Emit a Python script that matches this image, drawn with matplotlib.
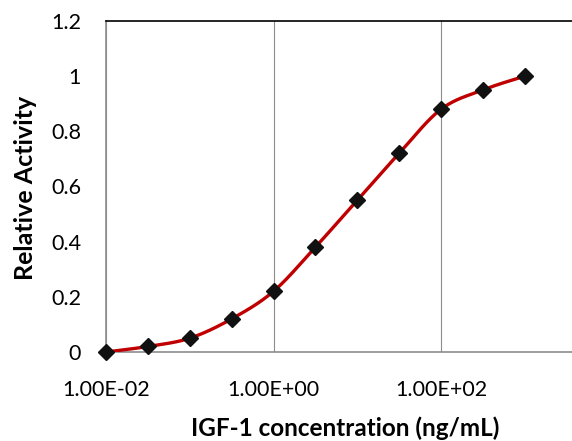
import numpy as np
import matplotlib
matplotlib.use("Agg")
import matplotlib.pyplot as plt
from matplotlib.ticker import FixedLocator, NullLocator

plt.rcParams['font.family'] = ['Lato', 'DejaVu Sans']

# data
conc = [0.01, 0.0316, 0.1, 0.316, 1, 3.16, 10, 31.6, 100, 316, 1000]
activity = [0.0, 0.02, 0.05, 0.12, 0.22, 0.38, 0.55, 0.72, 0.88, 0.95, 1.0]
x_ticks = [0.01, 1, 100, 10000]
x_tick_labels = ["1.00E-02", "1.00E+00", "1.00E+02", ""]
y_ticks = [0, 0.2, 0.4, 0.6, 0.8, 1, 1.2]
y_tick_labels = ["0", "0.2", "0.4", "0.6", "0.8", "1", "1.2"]


def smooth_curve(xs, ys, n=40):
    # Excel-style smoothed line: Catmull-Rom as cubic Bezier, in log-x space
    p = np.column_stack([np.log10(xs), ys])
    pts = np.vstack([p[0], p, p[-1]])
    out = []
    for i in range(1, len(pts) - 2):
        p0, p1, p2, p3 = pts[i - 1], pts[i], pts[i + 1], pts[i + 2]
        c1 = p1 + (p2 - p0) / 6
        c2 = p2 - (p3 - p1) / 6
        t = np.linspace(0, 1, n)[:, None]
        seg = ((1 - t) ** 3) * p1 + 3 * ((1 - t) ** 2) * t * c1 + 3 * (1 - t) * t ** 2 * c2 + t ** 3 * p2
        out.append(seg)
    out = np.vstack(out)
    return 10 ** out[:, 0], out[:, 1]


fig = plt.figure(figsize=(5.72, 4.41), dpi=100)
ax = fig.add_axes([106 / 572, 89 / 441, 502.5 / 572, 331 / 441])

sx, sy = smooth_curve(conc, activity)
ax.plot(sx, sy, color="#C00000", linewidth=2.4, zorder=3)
ax.plot(conc, activity, linestyle="none", marker="D", markersize=8.5,
        color="#111111", zorder=4, clip_on=False)

ax.set_xscale("log")
ax.set_xlim(0.01, 10000)
ax.set_ylim(0, 1.2)
ax.xaxis.set_major_locator(FixedLocator(x_ticks))
ax.xaxis.set_minor_locator(NullLocator())
ax.set_xticklabels(x_tick_labels)
ax.set_yticks(y_ticks)
ax.set_yticklabels(y_tick_labels)
ax.tick_params(axis="both", length=0, labelsize=15.5, colors="black")
ax.tick_params(axis="x", pad=20)
ax.tick_params(axis="y", pad=18)

ax.grid(axis="x", color="#8c8c8c", linewidth=0.8)
for side in ["left", "bottom"]:
    ax.spines[side].set_color("#8c8c8c")
    ax.spines[side].set_linewidth(1.2)
ax.spines["top"].set_color("black")
ax.spines["top"].set_linewidth(1.2)
ax.spines["right"].set_color("black")

fig.text(345 / 572, 1 - 436 / 441, "IGF-1 concentration (ng/mL)", ha="center", va="baseline",
         fontsize=17.5, fontweight="bold")
fig.text(26 / 572, 1 - 188 / 441, "Relative Activity", ha="center", va="center",
         rotation=90, fontsize=18, fontweight="bold")

fig.savefig("out.png", dpi=100)
